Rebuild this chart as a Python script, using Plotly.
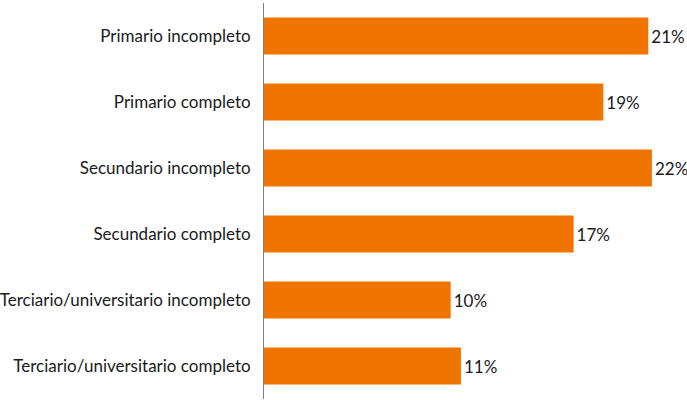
import plotly.graph_objects as go

categories = [
    "Primario incompleto",
    "Primario completo",
    "Secundario incompleto",
    "Secundario completo",
    "Terciario/universitario incompleto",
    "Terciario/universitario completo",
]
values = [21.35, 18.85, 21.55, 17.2, 10.37, 10.94]
labels = [f"{round(v)}%" for v in values]

fig = go.Figure(
    go.Bar(
        y=categories,
        x=values,
        orientation="h",
        marker=dict(color="#F07400", line=dict(width=0)),
        text=labels,
        textposition="outside",
        textfont=dict(family="Lato, Open Sans, sans-serif", size=17, color="#1a1a1a"),
        cliponaxis=False,
        hoverinfo="skip",
    )
)

fig.update_layout(
    width=687,
    height=400,
    margin=dict(l=264, r=18, t=3, b=1, autoexpand=False),
    paper_bgcolor="white",
    plot_bgcolor="white",
    bargap=0.44,
    showlegend=False,
    uniformtext=dict(minsize=17, mode=False),
    font=dict(family="Lato, Open Sans, sans-serif", size=17, color="#1a1a1a"),
)
fig.update_xaxes(range=[0, 22.5], showgrid=False, showticklabels=False,
                 zeroline=False, showline=False, automargin=False)
fig.update_yaxes(autorange="reversed", showline=True, linecolor="#808080",
                 linewidth=1, ticks="", ticklabelstandoff=9, showgrid=False,
                 automargin=False)

fig.write_html(
    "out.html",
    config={"displayModeBar": False},
    post_script="document.body.style.margin='0px';document.body.style.overflow='hidden';",
)
